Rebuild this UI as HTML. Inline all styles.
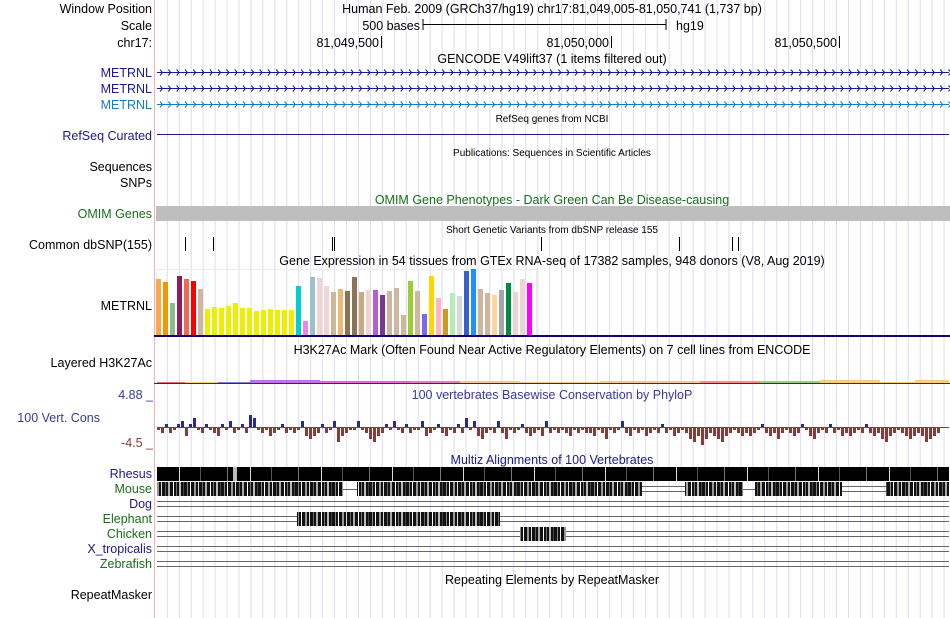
<!DOCTYPE html>
<html><head><meta charset="utf-8"><style>
body{margin:0;background:#fff;}
#wrap{position:relative;width:950px;height:618px;overflow:hidden;font-family:"Liberation Sans",sans-serif;}
svg{position:absolute;left:0;top:0;}
text{font-family:"Liberation Sans",sans-serif;}
</style></head><body>
<div id="wrap">
<svg id="s" width="950" height="618"></svg>
</div>
<script>
// GTEx expression (bar heights in px-units)
const gtexValues=[56,53,32,59,56,54,46,26,28,27,29,32,27,27,24,25,26,25,25,25,49,14,58,57,49,43,46,44,58,43,45,45,40,44,47,20,54,44,21,59,37,26,42,39,64,66,46,42,40,45,52,43,56,52];
const gtexColors=["#FFA54F","#EE9A00","#8FBC8F","#8B1C62","#EE6A50","#FF0000","#CDB79E","#EEEE00","#EEEE00","#EEEE00","#EEEE00","#EEEE00","#EEEE00","#EEEE00","#EEEE00","#EEEE00","#EEEE00","#EEEE00","#EEEE00","#EEEE00","#00CED1","#EE82EE","#9AC0CD","#EED5D2","#EED5D2","#CDB79E","#EEB873","#8B7355","#8B7355","#CDAA7D","#EED5D2","#B460D0","#7A378B","#CDB79E","#CDB79E","#CDB79E","#9ACD32","#CDB79E","#7B68EE","#FFD700","#FFB6C1","#CD9B1D","#B4EEB4","#D9D9D9","#3A5FCD","#1E90FF","#CDB79E","#CDB79E","#FFD39B","#A6A6A6","#008B45","#EED5D2","#EED5D2","#FF00FF"];
// PhyloP conservation, one value per 4px bin
const phyloValues=[-1,-2,1,-2,-1,1,2,-3,1,3,-1,-2,1,-1,-2,-3,1,-1,2,-2,-1,1,-2,4,3,-1,-2,-1,-3,-2,-1,1,-2,-1,-2,-1,2,-3,-4,-3,-2,1,-2,-1,2,-5,-3,-2,-1,-1,2,-1,-2,-4,-5,-3,-2,1,-1,2,-1,-2,1,-2,-1,-1,2,-3,-2,-1,1,-2,-3,-1,-2,1,-2,3,-1,2,-3,-4,-2,-1,-2,2,-2,-4,-1,-2,-1,1,-2,-3,-2,-1,-3,2,-2,-1,-2,-1,-2,-3,-1,-2,-1,-2,-2,-3,-1,-2,-4,-1,-2,-1,2,-2,-3,-1,-2,-1,-3,-2,-1,-2,1,-2,-1,-3,-2,-1,-2,-4,-5,-3,-6,-4,-2,-3,-4,-5,-3,-2,-1,-2,-3,-2,-3,-2,-1,1,-2,-3,-2,-4,-2,-1,-2,-3,-2,1,-1,-3,-4,-2,-1,-2,1,-2,-1,-3,-2,-3,-2,-1,-2,1,-2,-3,-2,-4,-5,-3,-2,-1,-2,-3,-4,-3,-2,-3,-5,-4,-3,-2];
// dbSNP variant positions (px)
const snpX=[185,213,332,334,541,679,732,738];
// H3K27Ac layered segments
const h3Start=[157,185,218,250,320,410,460,520,600,700,760,820,880,915];
const h3End=[185,218,250,320,410,460,520,600,700,760,820,880,915,949];
const h3Height=[1,1,1,3,2,2,2,1,2,2,2,3,1,3];
const h3Color=["#e04060","#f5c060","#6060c0","#b050e0","#e040c0","#e060a0","#f0c070","#f0c070","#f0c070","#ff7060","#80c060","#f5c060","#f5c060","#f5c060"];

const NS="http://www.w3.org/2000/svg";
const svg=document.getElementById('s');
function mk(tag,attrs,parent){const e=document.createElementNS(NS,tag);for(const k in attrs)e.setAttribute(k,attrs[k]);(parent||svg).appendChild(e);return e;}
function txt(x,y,str,opt){opt=opt||{};const e=mk('text',{x:x,y:y,'font-size':opt.size||12.5,fill:opt.fill||'#000','text-anchor':opt.anchor||'start'});e.textContent=str;


return e;}

// grid
const grid=mk('g',{});


for(let x=167.3;x<950;x+=11.95){mk('line',{x1:x,x2:x,y1:0,y2:618,stroke:'#dcdcf4','stroke-width':1},grid);}
const lb=mk('line',{x1:154.5,x2:154.5,y1:0,y2:618,stroke:'#f4b4b4','stroke-width':1});



// header labels
txt(152,13,'Window Position',{anchor:'end',name:'window-position-label'});
txt(152,30,'Scale',{anchor:'end',name:'scale-label'});
txt(152,47,'chr17:',{anchor:'end',name:'chr-label'});
txt(552,13,'Human Feb. 2009 (GRCh37/hg19)   chr17:81,049,005-81,050,741 (1,737 bp)',{anchor:'middle',name:'position-title'});
txt(420,30,'500 bases',{anchor:'end',name:'scale-text'});
mk('path',{d:'M423 19V30M423 24.5H666M666 19V30',stroke:'#000',fill:'none'});
txt(676,30,'hg19',{name:'assembly-label'});
[[381,'81,049,500'],[611,'81,050,000'],[839,'81,050,500']].forEach(t=>{txt(t[0]-2,47,t[1],{anchor:'end',name:'coordinate-tick-label'});mk('line',{x1:t[0]+.5,x2:t[0]+.5,y1:36,y2:48,stroke:'#000'});});
txt(552,63,'GENCODE V49lift37 (1 items filtered out)',{anchor:'middle',name:'gencode-title'});

// METRNL rows
[[72,'#1a1a8c'],[88,'#1a1a8c'],[104,'#1a7bbf']].forEach((r,i)=>{
 txt(152,r[0]+5,'METRNL',{anchor:'end',fill:r[1],name:'metrnl-label',inter:true});
 const g=mk('g',{stroke:r[1],fill:'none','stroke-width':1});
 
 
 mk('line',{x1:157,x2:949,y1:r[0]+.5,y2:r[0]+.5},g);
 let d='';for(let x=160;x<949;x+=8.3){d+=`M${x} ${r[0]-2.5}L${x+2.5} ${r[0]+.5}L${x} ${r[0]+3.5}`;}
 mk('path',{d:d},g);
});
txt(552,122,'RefSeq genes from NCBI',{anchor:'middle',size:10,name:'refseq-title'});
txt(152,140,'RefSeq Curated',{anchor:'end',fill:'#1a1a8c',name:'refseq-label',inter:true});
mk('line',{x1:157,x2:949,y1:134.5,y2:134.5,stroke:'#1a1a8c'});
txt(552,156,'Publications: Sequences in Scientific Articles',{anchor:'middle',size:10,name:'publications-title'});
txt(152,171,'Sequences',{anchor:'end',name:'sequences-label'});
txt(152,187,'SNPs',{anchor:'end',name:'snps-label'});
txt(552,204,'OMIM Gene Phenotypes - Dark Green Can Be Disease-causing',{anchor:'middle',fill:'#1a6e1a',name:'omim-title'});
txt(152,218,'OMIM Genes',{anchor:'end',fill:'#1a6e1a',name:'omim-label',inter:true});
const om=mk('rect',{x:156,y:206,width:794,height:15,fill:'#bebebe'});


txt(552,233,'Short Genetic Variants from dbSNP release 155',{anchor:'middle',size:10,name:'dbsnp-title'});
txt(152,249,'Common dbSNP(155)',{anchor:'end',name:'dbsnp-label',inter:true});
snpX.forEach(x=>{const l=mk('line',{x1:x+.5,x2:x+.5,y1:237,y2:251,stroke:'#000'});
 
 });

// GTEx
txt(552,265,'Gene Expression in 54 tissues from GTEx RNA-seq of 17382 samples, 948 donors (V8, Aug 2019)',{anchor:'middle',name:'gtex-title'});
txt(152,310,'METRNL',{anchor:'end',name:'gtex-gene-label'});
mk('rect',{x:156.5,y:269.5,width:380,height:66,fill:'none',stroke:'#ececec'});
const gBase=335;
function gx(i){return 156+i*7;}
function gh(v){return v;}
gtexValues.forEach((v,i)=>{const r=mk('rect',{x:gx(i),y:gBase-gh(v),width:5,height:gh(v),fill:gtexColors[i]});
 
 });
mk('line',{x1:154,x2:950,y1:336,y2:336,stroke:'#0a0a6e','stroke-width':2});

// H3K27Ac
txt(552,354,'H3K27Ac Mark (Often Found Near Active Regulatory Elements) on 7 cell lines from ENCODE',{anchor:'middle',name:'h3k27ac-title'});
txt(152,367,'Layered H3K27Ac',{anchor:'end',name:'h3k27ac-label',inter:true});
h3Start.forEach((s,i)=>{const r=mk('rect',{x:s,y:383-h3Height[i],width:h3End[i]-s,height:h3Height[i],fill:h3Color[i],opacity:.8});
 
 });
mk('line',{x1:154,x2:950,y1:383.5,y2:383.5,stroke:'#2a2a6e','stroke-width':1});

// PhyloP
txt(552,399,'100 vertebrates Basewise Conservation by PhyloP',{anchor:'middle',fill:'#3a3a9a',name:'phylop-title'});
txt(153,399,'4.88 _',{anchor:'end',fill:'#3a3a9a',name:'phylop-max-label'});
txt(100,422,'100 Vert. Cons',{anchor:'end',fill:'#3a3a9a',name:'phylop-label',inter:true});
txt(153,447,'-4.5 _',{anchor:'end',fill:'#8b3a3a',name:'phylop-min-label'});
const pBase=427;
function py(v){return pBase-v*3;}
mk('line',{x1:157,x2:949,y1:pBase+.5,y2:pBase+.5,stroke:'#8b3a3a','stroke-width':1});
phyloValues.forEach((v,i)=>{const x=157+i*4;const y=py(v);
 const r=mk('rect',{x:x,y:Math.min(y,pBase),width:3,height:Math.max(1,Math.abs(y-pBase)),fill:v>0?'#2a2a8a':'#8b3a3a'});
 
 });

// Multiz
txt(552,464,'Multiz Alignments of 100 Vertebrates',{anchor:'middle',fill:'#1a1a8c',name:'multiz-title'});
const sp=[['Rhesus','#1a1a8c',474],['Mouse','#1a6e1a',489],['Dog','#1a1a8c',504],['Elephant','#1a6e1a',519],['Chicken','#1a6e1a',534],['X_tropicalis','#1a1a8c',549],['Zebrafish','#1a6e1a',564]];
sp.forEach(s=>txt(152,s[2]+4,s[0],{anchor:'end',fill:s[1],name:'species-label',inter:true}));
const defs=mk('defs',{});
const pat=mk('pattern',{id:'stripe',width:37,height:10,patternUnits:'userSpaceOnUse'},defs);
mk('rect',{width:37,height:10,fill:'#111'},pat);
[[2,1,'#888'],[5,1,'#fff'],[9,2,'#999'],[13,1,'#ddd'],[17,1,'#666'],[20,2,'#aaa'],[25,1,'#fff'],[28,1,'#777'],[31,2,'#bbb'],[35,1,'#444']].forEach(p=>mk('rect',{x:p[0],y:0,width:p[1],height:10,fill:p[2]},pat));
const pat2=mk('pattern',{id:'stripe2',width:71,height:10,patternUnits:'userSpaceOnUse'},defs);
mk('rect',{width:71,height:10,fill:'#000'},pat2);
[[14,1,'#777'],[37,1,'#ddd'],[58,1,'#555']].forEach(p=>mk('rect',{x:p[0],y:0,width:p[1],height:10,fill:p[2]},pat2));
function blk(x1,x2,y,h,f,name){const r=mk('rect',{x:x1,y:y,width:x2-x1,height:h,fill:f});
 
 }
function dline(x1,x2,y){mk('path',{d:`M${x1} ${y+.5}H${x2}M${x1} ${y+5.5}H${x2}`,stroke:'#666',fill:'none'});}
// Rhesus
blk(157,233,467,14,'url(#stripe2)','rhesus-alignment');blk(233,237,467,14,'#bbb','rhesus-gap');blk(237,949,467,14,'url(#stripe2)','rhesus-alignment');
// Mouse
blk(157,343,482,14,'url(#stripe)','mouse-alignment');mk('line',{x1:343,x2:357,y1:489.5,y2:489.5,stroke:'#666'});
blk(357,642,482,14,'url(#stripe)','mouse-alignment');dline(642,685,486);
blk(685,743,482,14,'url(#stripe)','mouse-alignment');mk('line',{x1:743,x2:755,y1:489.5,y2:489.5,stroke:'#666'});
blk(755,842,482,14,'url(#stripe)','mouse-alignment');dline(842,886,486);
blk(886,949,482,14,'url(#stripe)','mouse-alignment');
// others
dline(157,949,501);
dline(157,297,516);blk(297,500,512,14,'url(#stripe)','elephant-alignment');dline(500,949,516);
dline(157,520,531);blk(520,566,527,14,'url(#stripe)','chicken-alignment');dline(566,949,531);
dline(157,949,546);dline(157,949,561);

txt(552,584,'Repeating Elements by RepeatMasker',{anchor:'middle',name:'repeatmasker-title'});
txt(152,599,'RepeatMasker',{anchor:'end',name:'repeatmasker-label',inter:true});
</script>
</body></html>
